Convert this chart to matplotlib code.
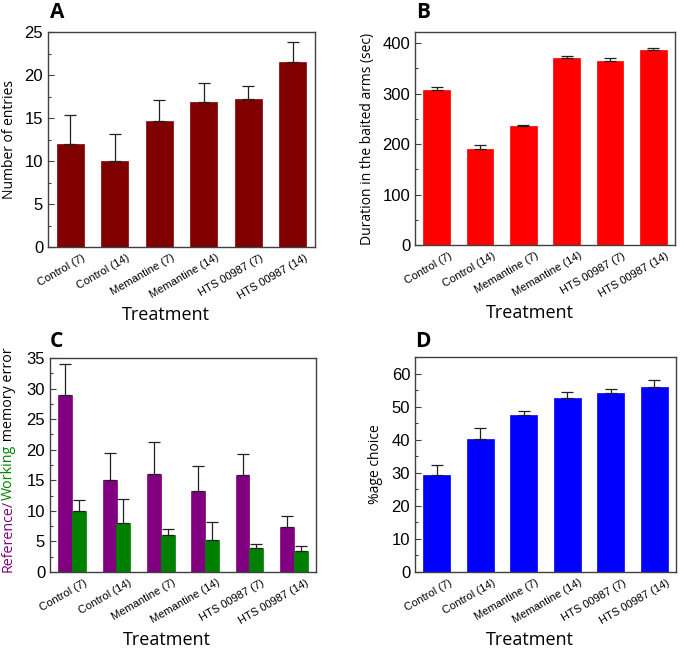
import numpy as np
import matplotlib
matplotlib.use("Agg")
import matplotlib.pyplot as plt
from matplotlib.ticker import MultipleLocator
from matplotlib.transforms import ScaledTranslation

treatments = ["Control (7)", "Control (14)", "Memantine (7)", "Memantine (14)",
              "HTS 00987 (7)", "HTS 00987 (14)"]

# panel A: number of entries
entries = [12.0, 10.0, 14.7, 16.85, 17.25, 21.5]
entries_err = [3.3, 3.1, 2.45, 2.2, 1.5, 2.3]

# panel B: duration in baited arms (sec)
duration = [308, 190, 235, 370, 365, 387]
duration_err = [5, 8, 3.5, 5, 5, 4]

# panel C: reference / working memory error
ref_error = [29.0, 15.0, 16.0, 13.3, 15.8, 7.3]
ref_error_err = [5.1, 4.4, 5.2, 4.05, 3.5, 1.9]
work_error = [10.0, 8.0, 6.0, 5.2, 4.0, 3.5]
work_error_err = [1.8, 4.0, 1.1, 3.0, 0.6, 0.8]

# panel D: %age choice
choice = [29.2, 40.1, 47.6, 52.5, 54.1, 56.0]
choice_err = [3.3, 3.5, 1.2, 2.0, 1.1, 2.0]

W, H = 684, 653
fig = plt.figure(figsize=(W / 100, H / 100), dpi=100)

tick_font = "Liberation Sans"
label_font = "Open Sans"
x = np.arange(len(treatments))


def px_axes(l, t, r, b):
    return fig.add_axes([l / W, (H - b) / H, (r - l) / W, (b - t) / H])


def style(ax, ylim, major, minor):
    ax.set_xlim(-0.5, len(treatments) - 0.5)
    ax.set_ylim(*ylim)
    ax.yaxis.set_major_locator(MultipleLocator(major))
    ax.yaxis.set_minor_locator(MultipleLocator(minor))
    for s in ax.spines.values():
        s.set_color("#404040")
        s.set_linewidth(1.0)
    ax.tick_params(axis="y", which="major", direction="in", length=4, width=0.8,
                   color="#404040", labelsize=12, pad=3.5)
    ax.tick_params(axis="y", which="minor", direction="in", length=2.5, width=0.8,
                   color="#404040")
    ax.tick_params(axis="x", length=0, pad=4)
    ax.set_xticks(x)
    ax.set_xticklabels(treatments, rotation=30, ha="right", va="top",
                       rotation_mode="anchor", fontsize=8, family=tick_font)
    off = ScaledTranslation(12 / 100, 0, fig.dpi_scale_trans)
    for lbl in ax.get_xticklabels():
        lbl.set_transform(lbl.get_transform() + off)
    for lbl in ax.get_yticklabels():
        lbl.set_family(tick_font)
    ax.set_xlabel("Treatment", fontsize=13, family=label_font)
    ax.xaxis.set_label_coords(0.44, -0.275)


def bars(ax, vals, errs, color, pos=x, width=0.61):
    ax.bar(pos, vals, width=width, color=color, edgecolor=color, linewidth=0.5,
           yerr=[np.zeros(len(vals)), errs], capsize=4,
           error_kw=dict(ecolor="#202020", elinewidth=0.9, capthick=0.9))


# A
axA = px_axes(48, 32, 315, 247)
bars(axA, entries, entries_err, "#800000")
style(axA, (0, 25), 5, 2.5)
axA.set_ylabel("Number of entries", fontsize=10, family=label_font)
axA.yaxis.set_label_coords(-0.115, 0.5)

# B
axB = px_axes(415, 32, 675, 245)
bars(axB, duration, duration_err, "#ff0000")
style(axB, (0, 422), 100, 50)
axB.set_ylabel("Duration in the baited arms (sec)", fontsize=10, family=label_font)
axB.yaxis.set_label_coords(-0.155, 0.5)

# C
axC = px_axes(50, 358, 316, 572)
bw = 0.315
bars(axC, ref_error, ref_error_err, "#800080", pos=x - bw / 2, width=bw)
bars(axC, work_error, work_error_err, "#008000", pos=x + bw / 2, width=bw)
style(axC, (0, 35), 5, 2.5)
t1 = axC.text(-0.128, 0.0, "Reference/", rotation=90, color="#800080",
              transform=axC.transAxes, ha="right", va="bottom",
              fontsize=10.3, family=label_font)
t2 = axC.annotate("Working", xy=(1, 1), xycoords=t1, rotation=90, color="#008000",
                  ha="right", va="bottom", fontsize=10.3, family=label_font)
axC.annotate(" memory error", xy=(1, 1), xycoords=t2, rotation=90, color="black",
             ha="right", va="bottom", fontsize=10.3, family=label_font)

# D
axD = px_axes(415, 357, 676, 572)
bars(axD, choice, choice_err, "#0000ff")
style(axD, (0, 65), 10, 5)
axD.set_ylabel("%age choice", fontsize=10, family=label_font)
axD.yaxis.set_label_coords(-0.123, 0.5)

for letter, lx, ty in [("A", 50, 2), ("B", 416, 2), ("C", 50, 331), ("D", 415, 331)]:
    fig.text(lx / W, 1 - ty / H, letter, ha="left", va="top", fontsize=15,
             fontweight="bold", family=label_font)

fig.savefig("out.png", dpi=100)
